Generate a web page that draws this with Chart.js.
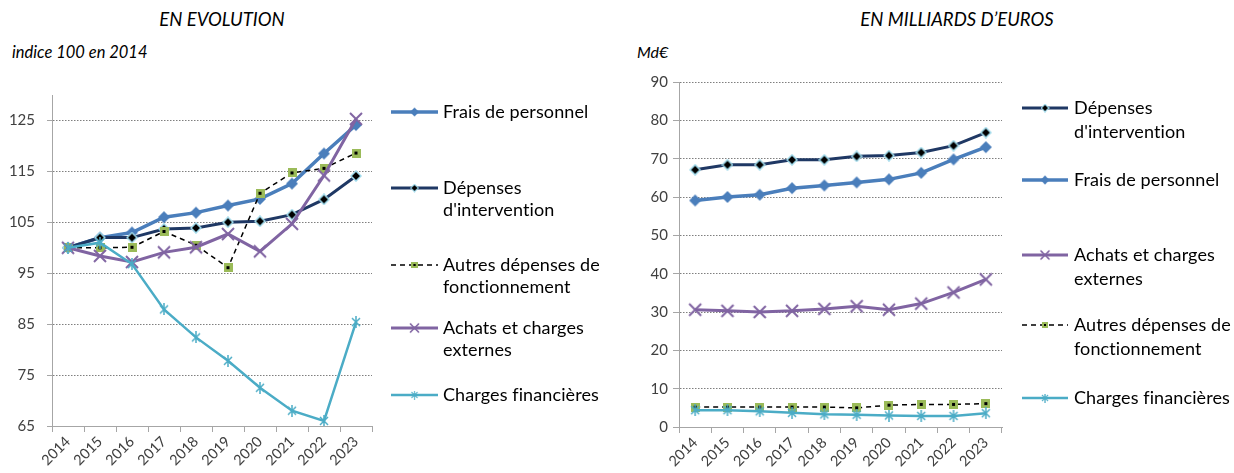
<!DOCTYPE html>
<html>
<head>
<meta charset="utf-8">
<script src="https://cdn.jsdelivr.net/npm/chart.js@4.4.0/dist/chart.umd.min.js"></script>
<style>
body { margin: 0; background: #fff; width: 1234px; height: 473px; overflow: hidden; position: relative; font-family: Lato, "Open Sans", sans-serif; color: #000; }
.t { position: absolute; font-style: italic; white-space: nowrap; line-height: 1; }
.c { transform: translateX(-50%); }
canvas { position: absolute; top: 0; }
</style>
</head>
<body>
<div class="t c" style="left:222px;top:10px;font-size:18.5px">EN EVOLUTION</div>
<div class="t" style="left:12px;top:44px;font-size:16.5px">indice 100 en 2014</div>
<div class="t c" style="left:957px;top:10px;font-size:18.5px">EN MILLIARDS D’EUROS</div>
<div class="t" style="left:637px;top:44px;font-size:16px">Md€</div>
<canvas id="left" width="620" height="473" style="left:0"></canvas>
<canvas id="right" width="614" height="473" style="left:620px"></canvas>
<script>
// Données
const years = ["2014", "2015", "2016", "2017", "2018", "2019", "2020", "2021", "2022", "2023"];

// indice 100 en 2014
const fraisIdx   = [100, 102, 103, 106, 106.9, 108.3, 109.6, 112.6, 118.5, 124.1];
const depIdx     = [100, 102, 102, 103.7, 103.9, 105, 105.2, 106.5, 109.5, 114.1];
const autresIdx  = [100, 100, 100.1, 103.2, 100.5, 96.1, 110.7, 114.7, 115.6, 118.6];
const achatsIdx  = [100, 98.4, 97.2, 99.1, 100.1, 102.7, 99.3, 104.7, 114.2, 125.3];
const chargesIdx = [100, 101, 96.8, 87.9, 82.4, 77.8, 72.5, 68, 66, 85.4];

// en milliards d'euros
const depMd     = [67.1, 68.4, 68.4, 69.7, 69.7, 70.6, 70.8, 71.6, 73.4, 76.8];
const fraisMd   = [59.1, 60, 60.6, 62.3, 63, 63.8, 64.6, 66.3, 69.8, 73];
const achatsMd  = [30.6, 30.3, 30.0, 30.3, 30.8, 31.5, 30.6, 32.2, 35.1, 38.5];
const autresMd  = [5.2, 5.2, 5.2, 5.2, 5.2, 5.0, 5.7, 5.9, 5.9, 6.1];
const chargesMd = [4.4, 4.4, 4.1, 3.7, 3.3, 3.2, 3.0, 2.9, 2.9, 3.6];

const yTicksIdx = [65, 75, 85, 95, 105, 115, 125];
const yTicksMd  = [0, 10, 20, 30, 40, 50, 60, 70, 80, 90];

const nameFrais   = ["Frais de personnel"];
const nameDep     = ["Dépenses", "d'intervention"];
const nameAutres  = ["Autres dépenses de", "fonctionnement"];
const nameAchats  = ["Achats et charges", "externes"];
const nameCharges = ["Charges financières"];

// marqueurs
function mk(w, draw) {
  const c = document.createElement("canvas");
  c.width = w; c.height = w;
  draw(c.getContext("2d"), w / 2);
  return c;
}
const mFrais = mk(14, (g, h) => {
  g.fillStyle = "#4a7ebb";
  g.beginPath(); g.moveTo(h, 1); g.lineTo(13, h); g.lineTo(h, 13); g.lineTo(1, h); g.closePath(); g.fill();
});
const mDep = mk(12, (g, h) => {
  g.fillStyle = "#000"; g.strokeStyle = "#9fd9ea"; g.lineWidth = 1.5;
  g.beginPath(); g.moveTo(h, 1); g.lineTo(11, h); g.lineTo(h, 11); g.lineTo(1, h); g.closePath(); g.fill(); g.stroke();
});
const mAutres = mk(9, (g) => {
  g.fillStyle = "#9bbb59"; g.fillRect(0, 0, 9, 9);
  g.fillStyle = "#000"; g.fillRect(3, 3, 3, 3);
});
const mAchats = mk(16, (g) => {
  g.strokeStyle = "#8064a2"; g.lineWidth = 2;
  g.beginPath(); g.moveTo(2, 2); g.lineTo(14, 14); g.moveTo(14, 2); g.lineTo(2, 14); g.stroke();
});
const mCharges = mk(12, (g, h) => {
  g.strokeStyle = "#4bacc6"; g.lineWidth = 1.5;
  g.beginPath(); g.moveTo(2, 2); g.lineTo(10, 10); g.moveTo(10, 2); g.lineTo(2, 10);
  g.moveTo(h, 0); g.lineTo(h, 12); g.stroke();
});

const S = {
  frais:   { borderColor: "#4a7ebb", borderWidth: 3.5, pointStyle: mFrais },
  dep:     { borderColor: "#1f3864", borderWidth: 3, pointStyle: mDep },
  autres:  { borderColor: "#000", borderWidth: 1.5, borderDash: [5, 4], pointStyle: mAutres },
  achats:  { borderColor: "#8064a2", borderWidth: 3, pointStyle: mAchats },
  charges: { borderColor: "#4bacc6", borderWidth: 2.5, pointStyle: mCharges }
};

function ds(data, st, order) {
  return Object.assign({ data: data, fill: false, tension: 0, order: order, pointRadius: 5 }, st);
}

// légende à droite
const sideLegend = {
  id: "sideLegend",
  afterDraw(chart, args, o) {
    const ctx = chart.ctx;
    ctx.save();
    ctx.font = "18px Lato";
    ctx.letterSpacing = "0.1px"; // pas de ligature "ti"
    ctx.fillStyle = "#000";
    ctx.textBaseline = "middle";
    o.items.forEach((it, i) => {
      const st = it.st, y = o.ys[i];
      ctx.beginPath();
      ctx.strokeStyle = st.borderColor;
      ctx.lineWidth = st.borderWidth;
      ctx.setLineDash(st.borderDash || []);
      ctx.moveTo(o.x1, y); ctx.lineTo(o.x2, y); ctx.stroke();
      ctx.setLineDash([]);
      const img = st.pointStyle, s = img.width * 0.75;
      ctx.drawImage(img, (o.x1 + o.x2) / 2 - s / 2, y - s / 2, s, s);
      it.lines.forEach((t, k) => ctx.fillText(t, o.tx, y + k * o.lh));
    });
    ctx.restore();
  }
};

function yScale(ticks, min, max, width, pad, tl) {
  return {
    min: min, max: max,
    afterBuildTicks: s => { s.ticks = ticks.map(v => ({ value: v })); },
    afterFit: s => { s.width = width; },
    border: { color: "#a6a6a6", width: 1, dash: [1.5, 1.5] },
    grid: { color: "#7f7f7f", lineWidth: 1, tickLength: tl, tickColor: "#a6a6a6", tickBorderDash: [] },
    ticks: { color: "#404040", font: { size: 15, family: "Lato" }, padding: pad }
  };
}
function xScale(h) {
  return {
    offset: true,
    afterFit: s => { s.height = h; },
    border: { color: "#a6a6a6", width: 1 },
    grid: { offset: true, drawOnChartArea: false, drawTicks: true, tickLength: 6, color: "#a6a6a6" },
    ticks: { minRotation: 45, maxRotation: 45, autoSkip: false, color: "#404040", font: { size: 14.5, family: "Lato" }, padding: 1 }
  };
}

new Chart(document.getElementById("left"), {
  type: "line",
  data: {
    labels: years,
    datasets: [
      ds(fraisIdx, S.frais, 4),
      ds(depIdx, S.dep, 3),
      ds(autresIdx, S.autres, 2),
      ds(achatsIdx, S.achats, 1),
      ds(chargesIdx, S.charges, 0)
    ]
  },
  options: {
    responsive: false,
    animation: false,
    layout: { padding: { left: 0, right: 248, top: 95, bottom: 0 }, autoPadding: false },
    scales: { x: xScale(47), y: yScale(yTicksIdx, 65, 130, 52, 12, 5) },
    plugins: {
      legend: { display: false },
      tooltip: { enabled: false },
      sideLegend: {
        x1: 391, x2: 438, tx: 443, lh: 22,
        ys: [112, 188, 265, 328, 395],
        items: [
          { st: S.frais, lines: nameFrais },
          { st: S.dep, lines: nameDep },
          { st: S.autres, lines: nameAutres },
          { st: S.achats, lines: nameAchats },
          { st: S.charges, lines: nameCharges }
        ]
      }
    }
  },
  plugins: [sideLegend]
});

new Chart(document.getElementById("right"), {
  type: "line",
  data: {
    labels: years,
    datasets: [
      ds(depMd, S.dep, 3),
      ds(fraisMd, S.frais, 4),
      ds(achatsMd, S.achats, 2),
      ds(autresMd, S.autres, 1),
      ds(chargesMd, S.charges, 0)
    ]
  },
  options: {
    responsive: false,
    animation: false,
    layout: { padding: { left: 0, right: 232, top: 82, bottom: 0 }, autoPadding: false },
    scales: { x: xScale(46), y: yScale(yTicksMd, 0, 90, 59, 5, 6) },
    plugins: {
      legend: { display: false },
      tooltip: { enabled: false },
      sideLegend: {
        x1: 402, x2: 448, tx: 454, lh: 24,
        ys: [108, 180, 255, 325, 398],
        items: [
          { st: S.dep, lines: nameDep },
          { st: S.frais, lines: nameFrais },
          { st: S.achats, lines: nameAchats },
          { st: S.autres, lines: nameAutres },
          { st: S.charges, lines: nameCharges }
        ]
      }
    }
  },
  plugins: [sideLegend]
});
</script>
</body>
</html>
